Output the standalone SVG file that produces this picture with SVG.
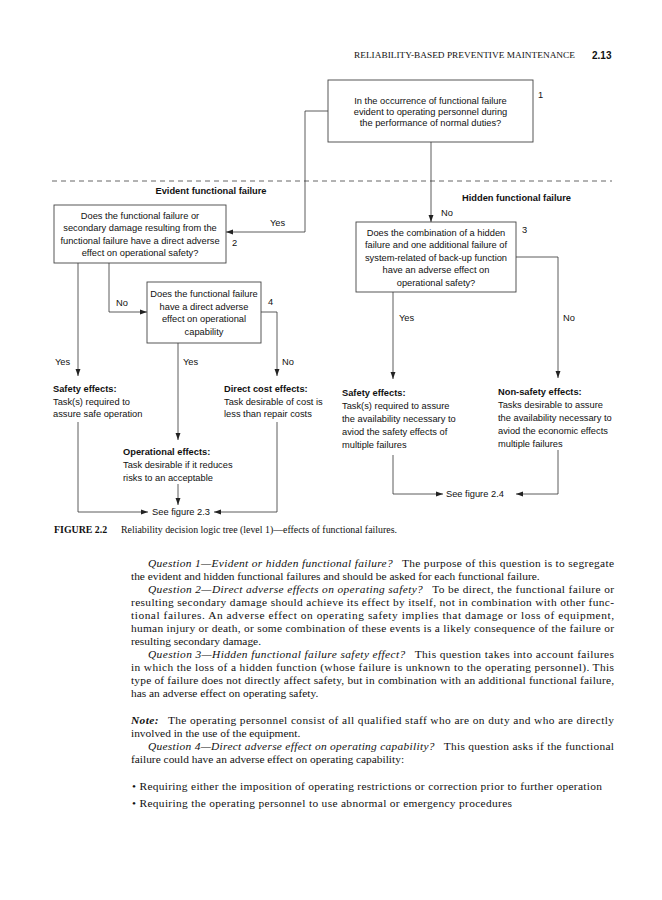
<svg xmlns="http://www.w3.org/2000/svg" width="662" height="900" viewBox="0 0 662 900">
<defs>
<marker id="ah" viewBox="0 0 10 10" refX="10" refY="5" markerWidth="7" markerHeight="7" markerUnits="userSpaceOnUse" orient="auto">
<path d="M0,1.5 L10,5 L0,8.5 z" fill="#222"/>
</marker>
<style>
.bx{fill:#fff;stroke:#444;stroke-width:0.9}
.ln{fill:none;stroke:#333;stroke-width:0.8}
.t{font-family:"Liberation Sans",Arial,sans-serif;font-size:9.3px;fill:#111}
.tc{font-family:"Liberation Sans",Arial,sans-serif;font-size:9.3px;fill:#111;text-anchor:middle}
.tb{font-family:"Liberation Sans",Arial,sans-serif;font-size:9.3px;fill:#111;font-weight:bold}
.body{font-family:"Liberation Serif","Times New Roman",serif;font-size:11.4px;fill:#111}
.it{font-style:italic}
</style>
</defs>
<rect width="662" height="900" fill="#fff"/>
<g id="header">
<text x="354" y="58" font-family="Liberation Serif,Times New Roman,serif" font-size="8.6" textLength="221" lengthAdjust="spacingAndGlyphs" fill="#111">RELIABILITY-BASED PREVENTIVE MAINTENANCE</text>
<text x="592" y="59" font-family="Liberation Sans,Arial,sans-serif" font-size="10" font-weight="bold" fill="#111">2.13</text>
</g>
<line x1="52" y1="181" x2="612" y2="181" stroke="#555" stroke-width="0.9" stroke-dasharray="5,4"/>
<text class="tb" x="211" y="194" text-anchor="middle">Evident functional failure</text>
<text class="tb" x="462" y="201">Hidden functional failure</text>
<g id="connectors">
<path class="ln" d="M328,111 H305 V232 H226" marker-end="url(#ah)"/>
<path class="ln" d="M431,142 V222" marker-end="url(#ah)"/>
<path class="ln" d="M109,263 V312 H147" marker-end="url(#ah)"/>
<path class="ln" d="M78,263 V376" marker-end="url(#ah)"/>
<path class="ln" d="M261,312 H277 V376" marker-end="url(#ah)"/>
<path class="ln" d="M178,343 V440" marker-end="url(#ah)"/>
<path class="ln" d="M393,292 V379" marker-end="url(#ah)"/>
<path class="ln" d="M516,257 H558 V378" marker-end="url(#ah)"/>
<path class="ln" d="M78,422 V512 H148" marker-end="url(#ah)"/>
<path class="ln" d="M277,422 V512 H214" marker-end="url(#ah)"/>
<path class="ln" d="M178,484 V505" marker-end="url(#ah)"/>
<path class="ln" d="M393,455 V494 H443" marker-end="url(#ah)"/>
<path class="ln" d="M558,450 V494 H516" marker-end="url(#ah)"/>
<text class="t" x="270" y="226">Yes</text>
<text class="t" x="441" y="216">No</text>
<text class="t" x="116" y="306">No</text>
<text class="t" x="55" y="365">Yes</text>
<text class="t" x="183" y="365">Yes</text>
<text class="t" x="282" y="365">No</text>
<text class="t" x="399" y="321">Yes</text>
<text class="t" x="563" y="321">No</text>
</g>
<g id="node1">
<rect class="bx" x="328" y="80" width="205" height="62"/>
<text class="tc" x="430.5" y="103.5">In the occurrence of functional failure</text>
<text class="tc" x="430.5" y="114.8">evident to operating personnel during</text>
<text class="tc" x="430.5" y="126">the performance of normal duties?</text>
<text class="t" x="538" y="98">1</text>
</g>
<g id="node2">
<rect class="bx" x="54" y="205" width="172" height="58"/>
<text class="tc" x="140" y="218.5">Does the functional failure or</text>
<text class="tc" x="140" y="231">secondary damage resulting from the</text>
<text class="tc" x="140" y="243.5">functional failure have a direct adverse</text>
<text class="tc" x="140" y="256">effect on operational safety?</text>
<text class="t" x="232" y="246">2</text>
</g>
<g id="node3">
<rect class="bx" x="356" y="222" width="160" height="70"/>
<text class="tc" x="436" y="235.5">Does the combination of a hidden</text>
<text class="tc" x="436" y="248">failure and one additional failure of</text>
<text class="tc" x="436" y="260.5">system-related of back-up function</text>
<text class="tc" x="436" y="273">have an adverse effect on</text>
<text class="tc" x="436" y="285.5">operational safety?</text>
<text class="t" x="522" y="233">3</text>
</g>
<g id="node4">
<rect class="bx" x="147" y="282" width="114" height="61"/>
<text class="tc" x="204" y="297">Does the functional failure</text>
<text class="tc" x="204" y="309.5">have a direct adverse</text>
<text class="tc" x="204" y="322">effect on operational</text>
<text class="tc" x="204" y="334.5">capability</text>
<text class="t" x="268" y="305">4</text>
</g>
<g id="safety-left">
<text class="tb" x="53" y="392">Safety effects:</text>
<text class="t" x="53" y="404.5">Task(s) required to</text>
<text class="t" x="53" y="417">assure safe operation</text>
</g>
<g id="direct-cost">
<text class="tb" x="224" y="392">Direct cost effects:</text>
<text class="t" x="224" y="404.5">Task desirable of cost is</text>
<text class="t" x="224" y="417">less than repair costs</text>
</g>
<g id="operational">
<text class="tb" x="123" y="455">Operational effects:</text>
<text class="t" x="123" y="468">Task desirable if it reduces</text>
<text class="t" x="123" y="480.5">risks to an acceptable</text>
</g>
<g id="safety-right">
<text class="tb" x="342" y="396">Safety effects:</text>
<text class="t" x="342" y="409">Task(s) required to assure</text>
<text class="t" x="342" y="422">the availability necessary to</text>
<text class="t" x="342" y="435">aviod the safety effects of</text>
<text class="t" x="342" y="448">multiple failures</text>
</g>
<g id="non-safety">
<text class="tb" x="498" y="395">Non-safety effects:</text>
<text class="t" x="498" y="408">Tasks desirable to assure</text>
<text class="t" x="498" y="421">the availability necessary to</text>
<text class="t" x="498" y="434">aviod the economic effects</text>
<text class="t" x="498" y="447">multiple failures</text>
</g>
<g id="fig23"><text class="tc" x="181" y="515.3">See figure 2.3</text></g>
<g id="fig24"><text class="t" x="446" y="497.3">See figure 2.4</text></g>
<g id="caption">
<text x="54" y="533" font-family="Liberation Serif,Times New Roman,serif" font-size="9.9" font-weight="bold" fill="#111">FIGURE 2.2</text>
<text x="121" y="533" font-family="Liberation Serif,Times New Roman,serif" font-size="9.9" fill="#111">Reliability decision logic tree (level 1)—effects of functional failures.</text>
</g>
<g id="body-text" class="body">
<text x="148" y="567" textLength="466" lengthAdjust="spacing"><tspan class="it">Question 1—Evident or hidden functional failure?</tspan><tspan dx="9">The purpose of this question is to segregate</tspan></text>
<text x="131" y="580">the evident and hidden functional failures and should be asked for each functional failure.</text>
<text x="148" y="593" textLength="466" lengthAdjust="spacing"><tspan class="it">Question 2—Direct adverse effects on operating safety?</tspan><tspan dx="9">To be direct, the functional failure or</tspan></text>
<text x="131" y="606" textLength="483" lengthAdjust="spacing">resulting secondary damage should achieve its effect by itself, not in combination with other func-</text>
<text x="131" y="619" textLength="483" lengthAdjust="spacing">tional failures. An adverse effect on operating safety implies that damage or loss of equipment,</text>
<text x="131" y="632" textLength="483" lengthAdjust="spacing">human injury or death, or some combination of these events is a likely consequence of the failure or</text>
<text x="131" y="645">resulting secondary damage.</text>
<text x="148" y="658" textLength="466" lengthAdjust="spacing"><tspan class="it">Question 3—Hidden functional failure safety effect?</tspan><tspan dx="9">This question takes into account failures</tspan></text>
<text x="131" y="671" textLength="483" lengthAdjust="spacing">in which the loss of a hidden function (whose failure is unknown to the operating personnel). This</text>
<text x="131" y="684" textLength="483" lengthAdjust="spacing">type of failure does not directly affect safety, but in combination with an additional functional failure,</text>
<text x="131" y="697">has an adverse effect on operating safety.</text>
<text x="131" y="724" textLength="483" lengthAdjust="spacing"><tspan font-weight="bold" font-style="italic">Note:</tspan><tspan dx="9">The operating personnel consist of all qualified staff who are on duty and who are directly</tspan></text>
<text x="131" y="737">involved in the use of the equipment.</text>
<text x="148" y="750" textLength="466" lengthAdjust="spacing"><tspan class="it">Question 4—Direct adverse effect on operating capability?</tspan><tspan dx="9">This question asks if the functional</tspan></text>
<text x="131" y="763">failure could have an adverse effect on operating capability:</text>
<text x="132" y="790" textLength="470" lengthAdjust="spacing">• Requiring either the imposition of operating restrictions or correction prior to further operation</text>
<text x="132" y="807" textLength="380" lengthAdjust="spacing">• Requiring the operating personnel to use abnormal or emergency procedures</text>
</g>
</svg>
